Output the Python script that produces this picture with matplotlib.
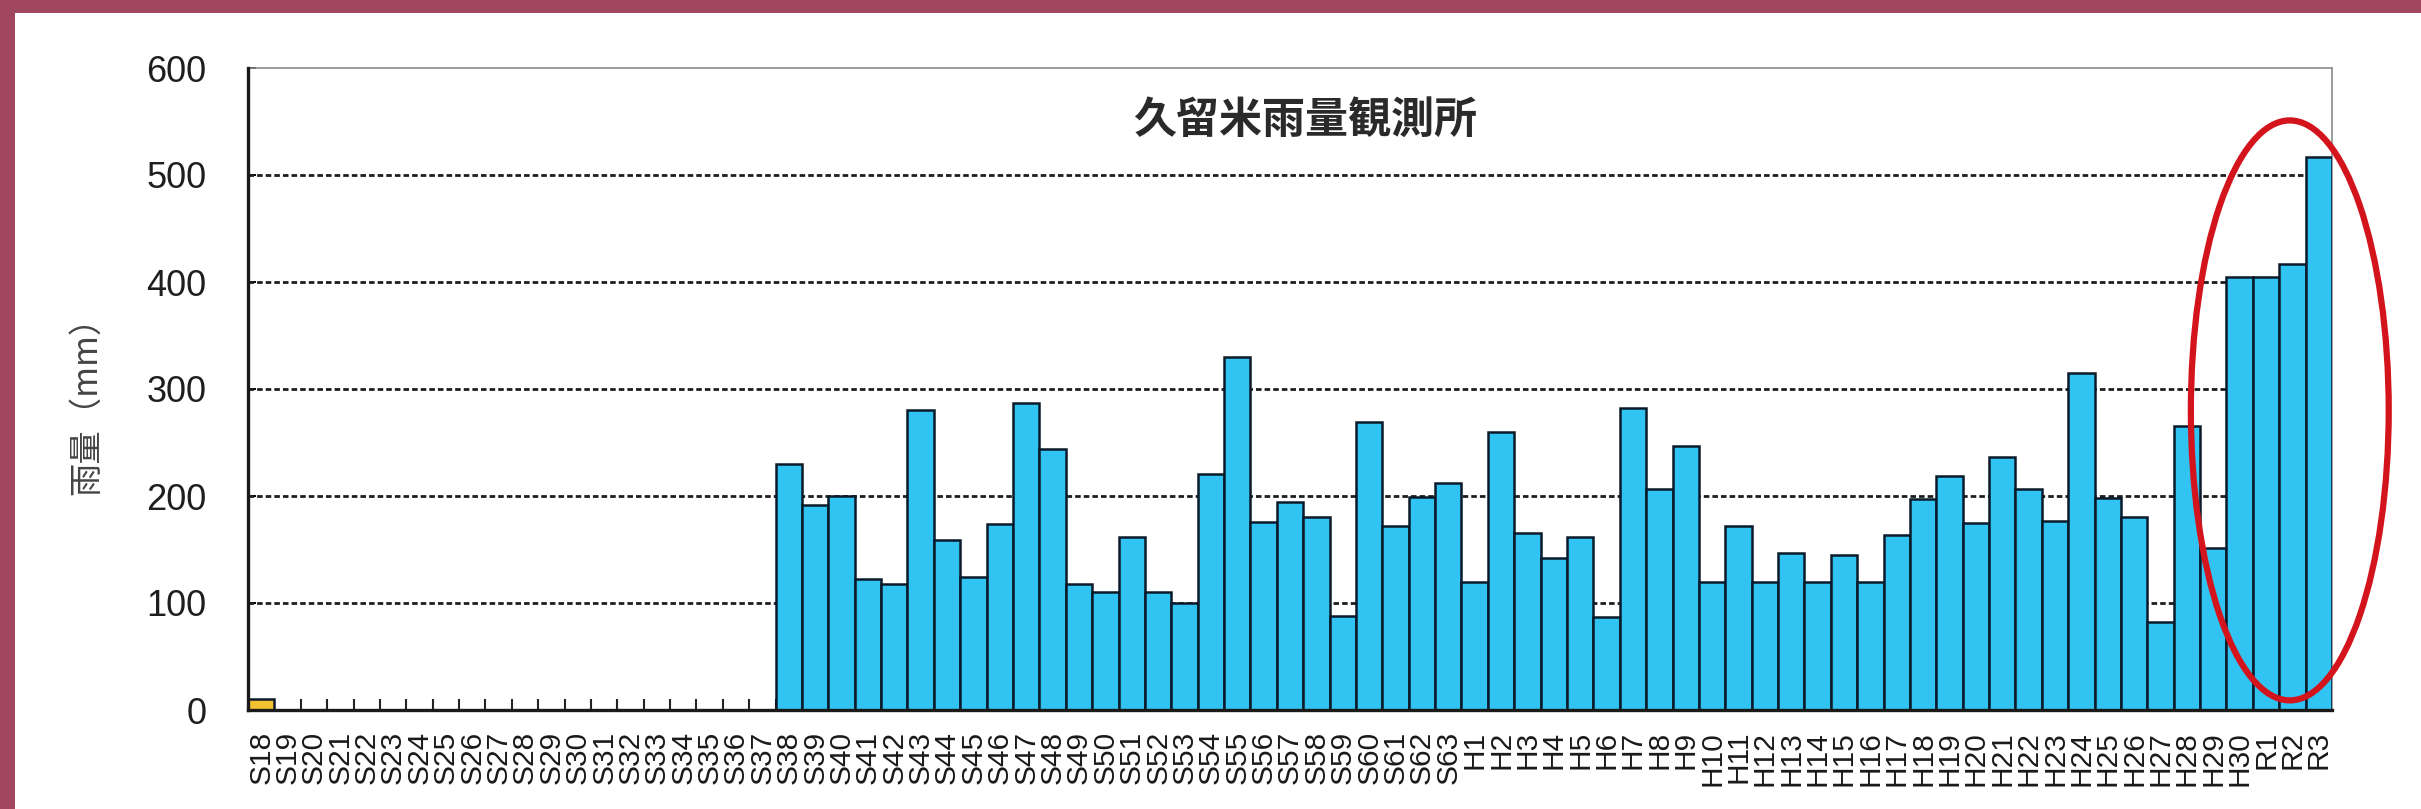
import matplotlib
matplotlib.use("Agg")
import matplotlib.pyplot as plt
from matplotlib.patches import Ellipse, Rectangle

plt.rcParams["font.family"] = ["Liberation Sans", "Noto Sans CJK JP", "DejaVu Sans"]

# 年別雨量 (mm): S18 .. S63, H1 .. H30, R1 .. R3
years = ([f"S{n}" for n in range(18, 64)]
         + [f"H{n}" for n in range(1, 31)]
         + ["R1", "R2", "R3"])

rain_s = [10] + [0] * 19 + [
    230, 192, 200, 122, 118, 280, 159, 124, 174, 287, 244, 118, 110,
    162, 110, 100, 221, 330, 176, 194, 180, 88, 269, 172, 199, 212,
]
rain_h = [
    120, 260, 165, 142, 162, 87, 282, 207, 247, 120, 172, 120, 147, 120, 145,
    120, 164, 197, 219, 175, 236, 207, 177, 315, 198, 180, 82, 265, 151, 405,
]
rain_r = [405, 417, 517]
rain = rain_s + rain_h + rain_r

partial_years = ["S18"]  # 観測開始年（欠測あり）

W, H = 2421, 809
fig = plt.figure(figsize=(W / 100, H / 100), dpi=100, facecolor="white")

# 枠の帯
band = "#A1465F"
fig.patches.append(Rectangle((0, 1 - 13 / H), 1, 13 / H, transform=fig.transFigure,
                             facecolor=band, edgecolor="none", zorder=0))
fig.patches.append(Rectangle((0, 0), 15 / W, 1, transform=fig.transFigure,
                             facecolor=band, edgecolor="none", zorder=0))

ax = fig.add_axes([248 / W, 1 - 710 / H, 2084 / W, 642 / H])

x = list(range(len(years)))
colors = ["#F2C230" if y in partial_years else "#31C3F2" for y in years]
ax.bar(x, rain, width=1.0, color=colors, edgecolor="#0B1A2A", linewidth=1.8, zorder=3)

ax.set_xlim(-0.5, len(years) - 0.5)
ax.set_ylim(0, 600)
ax.set_yticks(range(0, 601, 100))

for v in range(100, 600, 100):
    ax.axhline(v, color="#1E1E1E", linewidth=2.0, dashes=(2.0, 1.1), zorder=2)

ax.set_xticks(x)
ax.set_xticklabels(years, rotation=90, fontsize=21.5, color="#1A1A1A")
ax.set_xticks([i - 0.5 for i in range(1, len(years))], minor=True)
ax.tick_params(axis="x", which="major", length=0, pad=15)
ax.tick_params(axis="x", which="minor", direction="in", length=8, width=1.5, color="#222222")
ax.tick_params(axis="y", direction="in", length=6, width=1.4, pad=30,
               labelsize=26, labelcolor="#1E1E1E")

for side in ("left", "bottom"):
    ax.spines[side].set_linewidth(2.4)
    ax.spines[side].set_color("#1A1A1A")
    ax.spines[side].set_zorder(4)
for side in ("top", "right"):
    ax.spines[side].set_linewidth(1.2)
    ax.spines[side].set_color("#8A8A8A")

ax.text(0.507, 0.919, "久留米雨量観測所", transform=ax.transAxes, ha="center", va="center",
        fontsize=31, fontweight="bold", color="#2A2A2A",
        family=["Noto Sans CJK JP", "DejaVu Sans"])

fig.text(87 / W, 1 - 397 / H, "雨量（mm）", rotation=90, ha="center", va="center",
         fontsize=24, color="#444444", family=["Noto Sans CJK JP", "DejaVu Sans"])

# 直近4年を囲む
ax.add_patch(Ellipse((76.9, 280), width=7.5, height=542, fill=False,
                     edgecolor="#D3141C", linewidth=4.5, zorder=5, clip_on=False))

fig.savefig("out.png", dpi=100, facecolor=fig.get_facecolor())
